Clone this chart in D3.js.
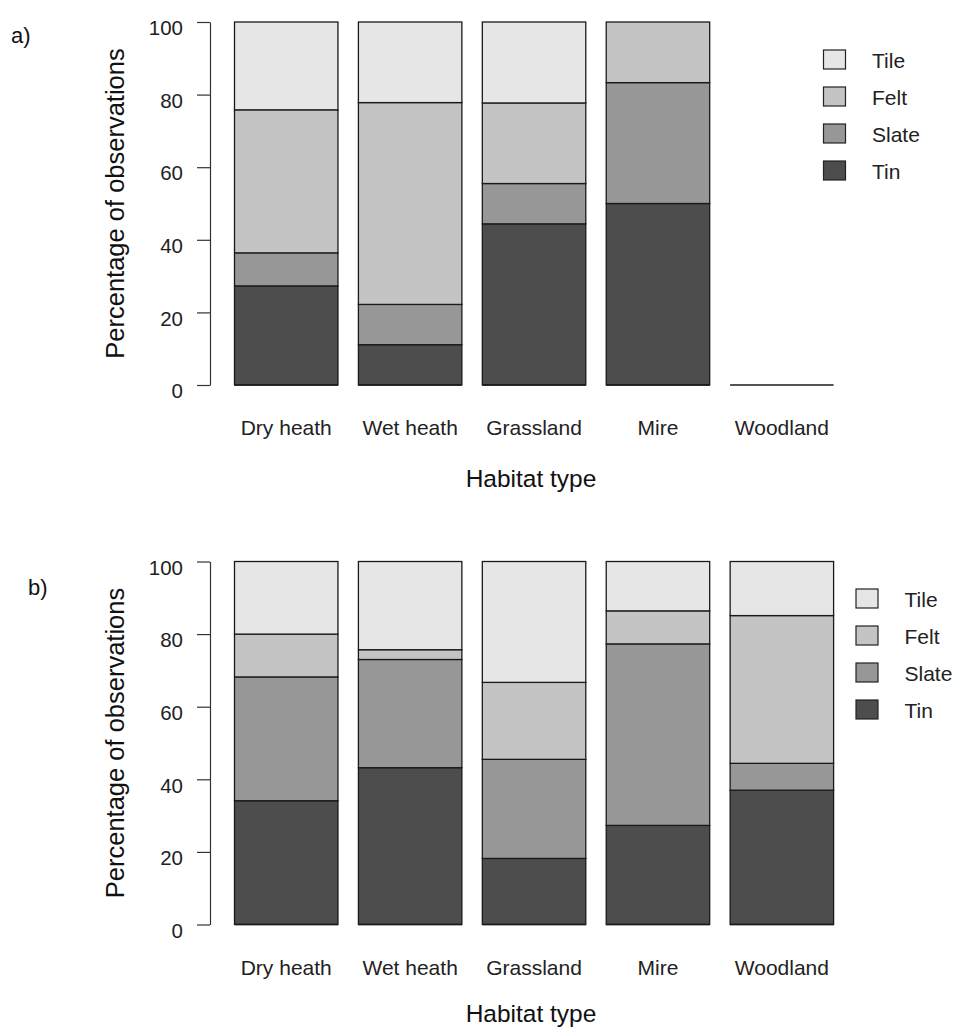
<!DOCTYPE html>
<html>
<head>
<meta charset="utf-8">
<script src="https://cdn.jsdelivr.net/npm/d3@7"></script>
<style>
  html, body { margin: 0; padding: 0; background: #fff; }
  svg { display: block; font-family: "Liberation Sans", Arial, sans-serif; }
</style>
</head>
<body>
<svg id="chart" width="955" height="1028"></svg>
<script>
// Habitat categories along the x axis
const habitats = ["Dry heath", "Wet heath", "Grassland", "Mire", "Woodland"];
// Stack order, bottom to top
const materials = ["Tin", "Slate", "Felt", "Tile"];
// Legend order, top to bottom
const legendOrder = ["Tile", "Felt", "Slate", "Tin"];
const materialFills = ["#4D4D4D", "#979797", "#C4C4C4", "#E6E6E6"];
const yTicks = [0, 20, 40, 60, 80, 100];

// Panel a) percentages per habitat
const tinA   = [27.3, 11.1, 44.4, 50.0, 0];
const slateA = [9.1, 11.1, 11.1, 33.3, 0];
const feltA  = [39.4, 55.6, 22.2, 16.7, 0];
const tileA  = [24.2, 22.2, 22.3, 0, 0];

// Panel b) percentages per habitat
const tinB   = [34.1, 43.2, 18.2, 27.3, 37.0];
const slateB = [34.1, 29.8, 27.3, 50.0, 7.4];
const feltB  = [11.8, 2.7, 21.2, 9.1, 40.7];
const tileB  = [20.0, 24.3, 33.3, 13.6, 14.9];

const svg = d3.select("#chart");
const color = d3.scaleOrdinal().domain(materials).range(materialFills);
const x = d3.scaleBand().domain(habitats).range([234.5, 833.6]).paddingInner(0.165).paddingOuter(0);

function rows(tin, slate, felt, tile) {
  return habitats.map((h, i) => ({ habitat: h, Tin: tin[i], Slate: slate[i], Felt: felt[i], Tile: tile[i] }));
}

function drawPanel(opts) {
  const { offsetY, data, label, labelX, labelY, legendX, legendY, xTitleY } = opts;
  const g = svg.append("g").attr("transform", `translate(0,${offsetY})`);
  const y = d3.scaleLinear().domain([0, 100]).range([385, 22]);

  const series = d3.stack().keys(materials)(data);

  g.append("g").selectAll("g")
    .data(series).join("g")
      .attr("fill", d => color(d.key))
    .selectAll("rect")
    .data(d => d).join("rect")
      .attr("x", d => x(d.data.habitat))
      .attr("width", x.bandwidth())
      .attr("y", d => y(d[1]))
      .attr("height", d => y(d[0]) - y(d[1]))
      .attr("stroke", "#1a1a1a")
      .attr("stroke-width", 1.3);

  // baseline edge of each bar (visible even for empty bars)
  g.append("g").selectAll("line")
    .data(data).join("line")
      .attr("x1", d => x(d.habitat))
      .attr("x2", d => x(d.habitat) + x.bandwidth())
      .attr("y1", y(0)).attr("y2", y(0))
      .attr("stroke", "#1a1a1a")
      .attr("stroke-width", 1.3);

  // y axis
  const yAxis = g.append("g")
    .attr("transform", "translate(210,0)")
    .call(d3.axisLeft(y).tickValues(yTicks).tickSize(13).tickSizeOuter(0).tickPadding(14));
  yAxis.select(".domain").attr("stroke", "#333").attr("stroke-width", 1.2);
  yAxis.selectAll(".tick line").attr("stroke", "#333").attr("stroke-width", 1.2);
  yAxis.selectAll(".tick text")
    .attr("font-size", 20.5)
    .attr("font-family", "Liberation Sans, Arial, sans-serif")
    .attr("fill", "#222")
    .attr("dy", "0.62em");

  // category labels
  g.append("g").selectAll("text")
    .data(habitats).join("text")
      .attr("x", d => x(d) + x.bandwidth() / 2)
      .attr("y", 435)
      .attr("text-anchor", "middle")
      .attr("font-size", 21)
      .attr("fill", "#222")
      .text(d => d);

  // axis titles
  g.append("text")
    .attr("x", 531).attr("y", xTitleY)
    .attr("text-anchor", "middle")
    .attr("font-size", 24.5)
    .attr("fill", "#111")
    .text("Habitat type");

  g.append("text")
    .attr("transform", `translate(123.5,${(y(0) + y(100)) / 2}) rotate(-90)`)
    .attr("text-anchor", "middle")
    .attr("font-size", 25.5)
    .attr("fill", "#111")
    .text("Percentage of observations");

  // panel label
  svg.append("text")
    .attr("x", labelX).attr("y", labelY)
    .attr("font-size", 22)
    .attr("fill", "#111")
    .text(label);

  // legend
  const lg = g.append("g").attr("transform", `translate(${legendX},${legendY})`);
  const item = lg.selectAll("g")
    .data(legendOrder).join("g")
      .attr("transform", (d, i) => `translate(0,${i * 37})`);
  item.append("rect")
    .attr("width", 22).attr("height", 19)
    .attr("fill", d => color(d))
    .attr("stroke", "#222")
    .attr("stroke-width", 1.2);
  item.append("text")
    .attr("x", 48.5).attr("y", 17.5)
    .attr("font-size", 21)
    .attr("fill", "#222")
    .text(d => d);
}

drawPanel({ offsetY: 0, data: rows(tinA, slateA, feltA, tileA), label: "a)",
            labelX: 11, labelY: 43, legendX: 823.5, legendY: 50, xTitleY: 486.5 });
drawPanel({ offsetY: 539.5, data: rows(tinB, slateB, feltB, tileB), label: "b)",
            labelX: 28, labelY: 595, legendX: 856, legendY: 49.5, xTitleY: 482 });
</script>
</body>
</html>
